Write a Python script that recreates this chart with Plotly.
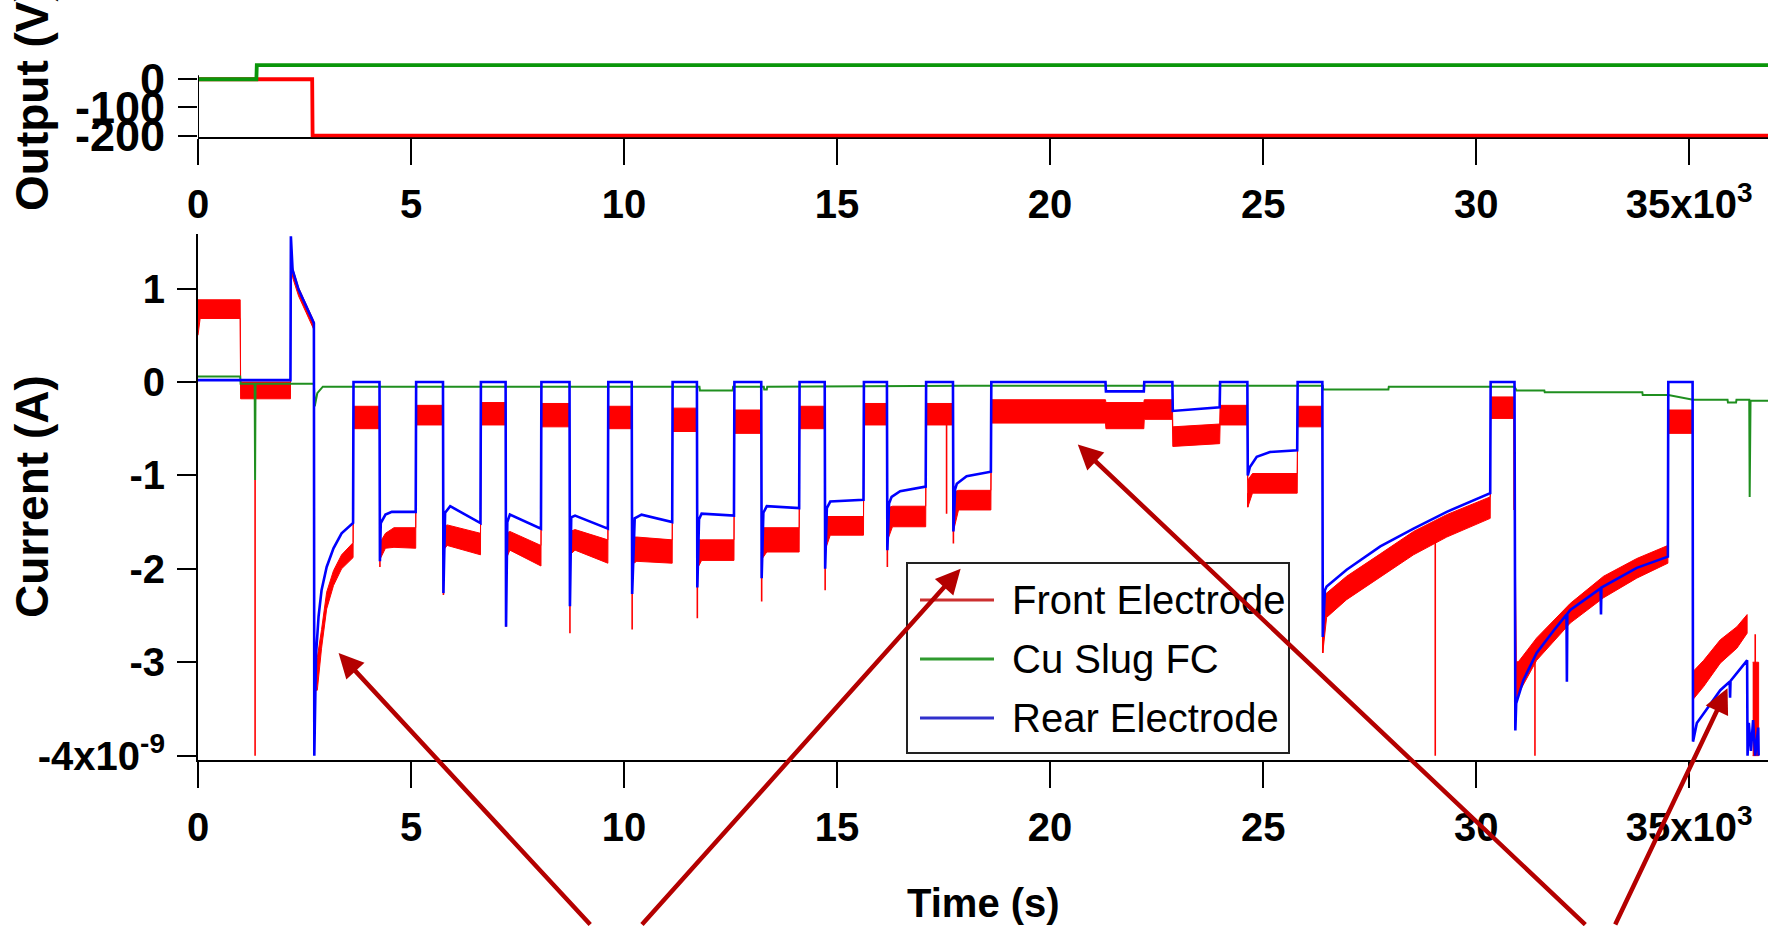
import plotly.graph_objects as go

W, H = 1777, 926

# ---------------- data (time in 10^3 s, current in 10^-9 A) ----------------
rear_t = [0.00, 2.17, 2.18, 2.22, 2.36, 2.54, 2.72, 2.73, 2.76, 2.77, 2.83, 2.90, 3.02, 3.18, 3.37, 3.64,
          3.65, 4.26, 4.27, 4.29, 4.40, 4.55, 5.11,
          5.12, 5.75, 5.76, 5.80, 5.92, 6.63,
          6.64, 7.22, 7.23, 7.26, 7.32, 8.05,
          8.06, 8.72, 8.73, 8.76, 8.85, 9.62,
          9.63, 10.18, 10.19, 10.25, 10.41, 11.13,
          11.14, 11.71, 11.72, 11.76, 11.82, 12.58,
          12.59, 13.22, 13.23, 13.27, 13.35, 14.11,
          14.12, 14.71, 14.72, 14.76, 14.84, 15.62,
          15.63, 16.17, 16.18, 16.22, 16.28, 16.48, 17.08,
          17.09, 17.72, 17.73, 17.77, 17.81, 18.04, 18.61,
          18.62, 21.30, 21.31, 22.20, 22.21, 22.87, 22.88, 23.98,
          23.99, 24.63, 24.64, 24.69, 24.85, 25.16, 25.80,
          25.81, 26.39, 26.40, 26.45, 26.49, 26.96, 27.75, 28.53, 29.31, 30.33,
          30.34, 30.90, 30.92, 30.94, 31.11, 31.42, 31.82, 32.12, 32.13, 32.14, 32.21,
          32.92, 32.93, 32.94, 33.77, 34.50,
          34.51, 35.08, 35.09, 35.18, 35.34, 35.73, 35.95, 35.96, 35.97, 36.12, 36.36,
          36.37, 36.40, 36.45, 36.50, 36.55, 36.62, 36.63]
rear_i = [0.02, 0.02, 1.56, 1.20, 0.99, 0.81, 0.63, -4.00, -3.00, -2.92, -2.51, -2.23, -1.98, -1.78, -1.62, -1.51,
          0.00, 0.00, -1.92, -1.51, -1.42, -1.39, -1.39,
          0.00, 0.00, -2.26, -1.40, -1.33, -1.51,
          0.00, 0.00, -2.62, -1.50, -1.42, -1.57,
          0.00, 0.00, -2.40, -1.45, -1.43, -1.57,
          0.00, 0.00, -2.27, -1.46, -1.42, -1.50,
          0.00, 0.00, -2.20, -1.47, -1.41, -1.43,
          0.00, 0.00, -2.10, -1.40, -1.33, -1.35,
          0.00, 0.00, -2.00, -1.35, -1.28, -1.26,
          0.00, 0.00, -1.80, -1.30, -1.23, -1.17, -1.12,
          0.00, 0.00, -1.60, -1.15, -1.09, -1.01, -0.96,
          0.00, 0.00, -0.10, -0.10, 0.00, 0.00, -0.31, -0.27,
          0.00, 0.00, -1.00, -0.91, -0.80, -0.75, -0.73,
          0.00, 0.00, -2.73, -2.23, -2.19, -2.01, -1.76, -1.57, -1.39, -1.19,
          0.00, 0.00, -3.73, -3.44, -3.19, -2.90, -2.66, -2.49, -3.21, -2.48, -2.44,
          -2.21, -2.49, -2.20, -1.99, -1.87,
          0.00, 0.00, -3.85, -3.65, -3.55, -3.30, -3.21, -3.38, -3.20, -3.12, -2.98,
          -4.00, -3.65, -3.95, -3.62, -4.00, -3.70, -4.00]

# front electrode: upper / lower edge of its ripple band
front_t = [0.00, 0.05, 0.99, 1.00, 2.17, 2.18, 2.22, 2.36, 2.54, 2.72,
           2.73, 2.80, 2.90, 3.02, 3.18, 3.37, 3.64,
           3.65, 4.26, 4.27, 4.40, 4.60, 5.11,
           5.12, 5.75, 5.76, 5.85, 6.63,
           6.64, 7.22, 7.23, 7.32, 8.05,
           8.06, 8.72, 8.73, 8.85, 9.62,
           9.63, 10.18, 10.19, 10.30, 11.13,
           11.14, 11.71, 11.72, 11.82, 12.58,
           12.59, 13.22, 13.23, 13.35, 14.11,
           14.12, 14.71, 14.72, 14.84, 15.62,
           15.63, 16.17, 16.18, 16.30, 17.08,
           17.09, 17.72, 17.73, 17.85, 18.61,
           18.62, 21.30, 21.31, 22.20, 22.21, 22.87, 22.88, 23.98,
           23.99, 24.63, 24.64, 24.75, 25.80,
           25.81, 26.39, 26.40, 26.49, 26.96, 27.75, 28.53, 29.31, 30.33,
           30.34, 30.89, 30.94, 31.00, 31.42, 32.21, 32.99, 33.77, 34.50,
           34.51, 35.08, 35.09, 35.34, 35.73, 36.12, 36.36]
front_hi = [0.88, 0.88, 0.88, 0.00, 0.00, 1.55, 1.22, 1.01, 0.83, 0.65,
            -2.95, -2.95, -2.65, -2.25, -2.02, -1.85, -1.72,
            -0.26, -0.26, -1.72, -1.62, -1.56, -1.56,
            -0.25, -0.25, -1.55, -1.53, -1.62,
            -0.22, -0.22, -1.62, -1.60, -1.75,
            -0.23, -0.23, -1.60, -1.58, -1.69,
            -0.26, -0.26, -1.66, -1.66, -1.69,
            -0.28, -0.28, -1.69, -1.69, -1.69,
            -0.30, -0.30, -1.56, -1.56, -1.56,
            -0.26, -0.26, -1.44, -1.44, -1.44,
            -0.23, -0.23, -1.35, -1.33, -1.33,
            -0.23, -0.23, -1.18, -1.16, -1.16,
            -0.19, -0.19, -0.22, -0.22, -0.19, -0.19, -0.48, -0.45,
            -0.25, -0.25, -1.05, -0.98, -0.98,
            -0.26, -0.26, -2.30, -2.26, -2.08, -1.84, -1.60, -1.42, -1.23,
            -0.16, -0.16, -3.00, -2.99, -2.74, -2.37, -2.08, -1.89, -1.75,
            -0.30, -0.30, -3.10, -2.98, -2.76, -2.62, -2.49]
front_lo = [0.50, 0.68, 0.68, -0.18, -0.18, 1.45, 1.12, 0.92, 0.74, 0.56,
            -3.30, -3.30, -2.85, -2.43, -2.18, -2.00, -1.88,
            -0.50, -0.50, -1.90, -1.78, -1.77, -1.78,
            -0.46, -0.46, -1.80, -1.75, -1.85,
            -0.46, -0.46, -1.90, -1.80, -1.97,
            -0.48, -0.48, -1.85, -1.80, -1.94,
            -0.50, -0.50, -1.95, -1.92, -1.94,
            -0.53, -0.53, -2.00, -1.91, -1.91,
            -0.55, -0.55, -1.90, -1.82, -1.82,
            -0.50, -0.50, -1.80, -1.64, -1.64,
            -0.46, -0.46, -1.70, -1.55, -1.55,
            -0.46, -0.46, -1.60, -1.37, -1.37,
            -0.44, -0.44, -0.50, -0.50, -0.40, -0.40, -0.69, -0.66,
            -0.46, -0.46, -1.34, -1.19, -1.19,
            -0.48, -0.48, -2.90, -2.52, -2.33, -2.09, -1.85, -1.66, -1.46,
            -0.39, -0.39, -3.40, -3.33, -2.98, -2.58, -2.31, -2.10, -1.94,
            -0.55, -0.55, -3.40, -3.26, -3.01, -2.85, -2.69]
front_end_t = [36.49, 36.63]
front_end_hi = [-3.00, -3.00]
front_end_lo = [-4.00, -4.00]

# isolated front-electrode spikes: time, top, bottom
spike_t = [1.34, 4.27, 5.76, 7.23, 8.73, 10.19, 11.72, 13.23, 14.72, 16.18,
           17.57, 17.73, 24.64, 26.40, 29.04, 30.89, 31.38, 36.55]
spike_top = [-1.05, -1.85, -1.75, -1.80, -1.80, -1.92, -1.91, -1.82, -1.64, -1.55,
             -0.46, -1.37, -1.19, -2.52, -1.66, -0.39, -3.00, -2.70]
spike_bot = [-4.00, -1.98, -2.28, -2.62, -2.69, -2.65, -2.53, -2.35, -2.23, -1.98,
             -1.41, -1.73, -1.34, -2.90, -4.00, -1.37, -4.00, -4.00]

slug_t = [0.00, 0.99, 1.00, 1.33, 1.34, 1.35, 2.72, 2.74, 2.80, 2.93, 11.77, 11.78, 12.55, 12.56,
          13.28, 13.29, 13.35, 13.36, 18.00, 26.40, 26.41, 27.94, 27.95, 30.90, 30.95, 31.60, 31.61,
          33.90, 33.91, 34.51, 35.09, 35.90, 35.91, 36.10, 36.11, 36.41, 36.42, 36.44, 36.85]
slug_i = [0.06, 0.06, -0.02, -0.02, -1.05, -0.02, -0.02, -0.26, -0.12, -0.05, -0.05, -0.09, -0.09, -0.05,
          -0.05, -0.08, -0.08, -0.05, -0.04, -0.04, -0.08, -0.08, -0.05, -0.05, -0.09, -0.09, -0.11,
          -0.11, -0.14, -0.14, -0.19, -0.19, -0.22, -0.22, -0.19, -0.19, -1.23, -0.20, -0.20]

# supply outputs (V)
out_a_t = [0.00, 2.68, 2.69, 36.85]
out_a_v = [0, 0, -200, -200]
out_b_t = [0.00, 1.37, 1.38, 36.85]
out_b_v = [0, 0, 50, 50]

time_ticks = [0, 5, 10, 15, 20, 25, 30, 35]
time_labels = ["0", "5", "10", "15", "20", "25", "30", "35x10<sup>3</sup>"]
cur_ticks = [1, 0, -1, -2, -3, -4]
cur_labels = ["1", "0", "-1", "-2", "-3", "-4x10<sup>-9</sup>"]
out_ticks = [0, -100, -200]
out_labels = ["0", "-100", "-200"]

series_names = ["Front Electrode", "Cu Slug FC", "Rear Electrode"]

# ---------------- styling ----------------
RED, GREEN, BLUE = "#ff0000", "#1f8f1f", "#0000ff"
ARROW = "#b40000"
SANS = "Liberation Sans, Arial, Helvetica, sans-serif"


def px_x(p):
    return p / W


def px_y(p):
    return 1 - p / H


fig = go.Figure()

# front electrode ripple band (one closed outline per run)
band_x = front_t + front_t[::-1] + [None] + front_end_t + front_end_t[::-1]
band_y = front_hi + front_lo[::-1] + [None] + front_end_hi + front_end_lo[::-1]
fig.add_trace(go.Scatter(x=band_x, y=band_y, mode="lines", fill="toself",
                         fillcolor=RED, line=dict(color=RED, width=1),
                         showlegend=False, hoverinfo="skip"))

sx, sy = [], []
for t, a, b in zip(spike_t, spike_top, spike_bot):
    sx += [t, t, None]
    sy += [a, b, None]
fig.add_trace(go.Scatter(x=sx, y=sy, mode="lines", line=dict(color=RED, width=1.6),
                         name=series_names[0], showlegend=False))
fig.add_trace(go.Scatter(x=slug_t, y=slug_i, mode="lines", line=dict(color=GREEN, width=2),
                         name=series_names[1], showlegend=False))
fig.add_trace(go.Scatter(x=rear_t, y=rear_i, mode="lines", line=dict(color=BLUE, width=2.6),
                         name=series_names[2], showlegend=False))

# top panel
fig.add_trace(go.Scatter(x=out_a_t, y=out_a_v, mode="lines", line=dict(color=RED, width=3.8),
                         xaxis="x2", yaxis="y2", showlegend=False))
fig.add_trace(go.Scatter(x=out_b_t, y=out_b_v, mode="lines", line=dict(color="#0a960a", width=3.8),
                         xaxis="x2", yaxis="y2", showlegend=False))

x_dom = [px_x(198), px_x(1768)]
tick_font = dict(family=SANS, size=40, color="black", weight="bold")
common_x = dict(range=[0, 36.85], domain=x_dom, tickvals=time_ticks, ticktext=time_labels,
                ticks="outside", ticklen=26, tickwidth=1.5, tickcolor="black",
                showline=True, linewidth=2, linecolor="black", showgrid=False, zeroline=False,
                tickfont=tick_font, ticklabelstandoff=5, layer="below traces", automargin=False)

fig.update_layout(
    width=W, height=H, autosize=False,
    margin=dict(l=0, r=0, t=0, b=0, pad=0, autoexpand=False),
    paper_bgcolor="white", plot_bgcolor="white",
    showlegend=False,
    xaxis=dict(anchor="y", **common_x),
    yaxis=dict(range=[-4.05, 1.58], domain=[px_y(760.3), px_y(234.4)],
               tickvals=cur_ticks, ticktext=cur_labels,
               ticks="outside", ticklen=19, tickwidth=1.5, tickcolor="black",
               showline=True, linewidth=2, linecolor="black", showgrid=False, zeroline=False,
               tickfont=tick_font, ticklabelstandoff=4, automargin=False),
    xaxis2=dict(anchor="y2", **common_x),
    yaxis2=dict(range=[-206, 58], domain=[px_y(137.4), px_y(62.9)],
                tickvals=out_ticks, ticktext=out_labels,
                ticks="outside", ticklen=19, tickwidth=1.5, tickcolor="black",
                showline=False, showgrid=False, zeroline=False,
                tickfont=dict(family=SANS, size=45, color="black", weight="bold"),
                ticklabelstandoff=4, automargin=False),
)

# left axis line of the top panel
fig.add_shape(type="line", xref="x2", yref="y2", x0=0, x1=0, y0=-206, y1=14,
              line=dict(color="black", width=2))

# axis titles
title_font = dict(family=SANS, size=46, color="black", weight="bold")
fig.add_annotation(text="Output (V)", xref="paper", yref="paper", x=px_x(32), y=px_y(99),
                   textangle=-90, showarrow=False, font=title_font, xanchor="center", yanchor="middle")
fig.add_annotation(text="Current (A)", xref="paper", yref="paper", x=px_x(32), y=px_y(497),
                   textangle=-90, showarrow=False, font=title_font, xanchor="center", yanchor="middle")
fig.add_annotation(text="Time (s)", xref="paper", yref="paper", x=px_x(983), y=px_y(903),
                   showarrow=False, font=dict(family=SANS, size=40, color="black", weight="bold"),
                   xanchor="center", yanchor="middle")

# legend box
fig.add_shape(type="rect", xref="paper", yref="paper", x0=px_x(907), x1=px_x(1289),
              y0=px_y(753), y1=px_y(563), line=dict(color="#222222", width=2), fillcolor="white",
              layer="above")
legend_rows = [(600, "#cc3030"), (659, "#2f9a2f"), (718, "#3030cc")]
for (row_y, col), name in zip(legend_rows, series_names):
    fig.add_shape(type="line", xref="paper", yref="paper", x0=px_x(920), x1=px_x(994),
                  y0=px_y(row_y), y1=px_y(row_y), line=dict(color=col, width=3), layer="above")
    fig.add_annotation(text=name, xref="paper", yref="paper", x=px_x(1010), y=px_y(row_y),
                       xanchor="left", yanchor="middle", showarrow=False,
                       font=dict(family=SANS, size=40, color="black"))

# pointer arrows
arrows = [(3.30, -2.90, 253, 291), (17.90, -2.00, -320, 372),
          (20.65, -0.67, 509, 497), (35.90, -3.28, -113, 250)]
for hx, hy, dx, dy in arrows:
    fig.add_annotation(x=hx, y=hy, xref="x", yref="y", ax=dx, ay=dy, text="",
                       showarrow=True, arrowhead=2, arrowsize=1.1, arrowwidth=4.5,
                       arrowcolor=ARROW, standoff=0)

fig.write_html("out.html")
